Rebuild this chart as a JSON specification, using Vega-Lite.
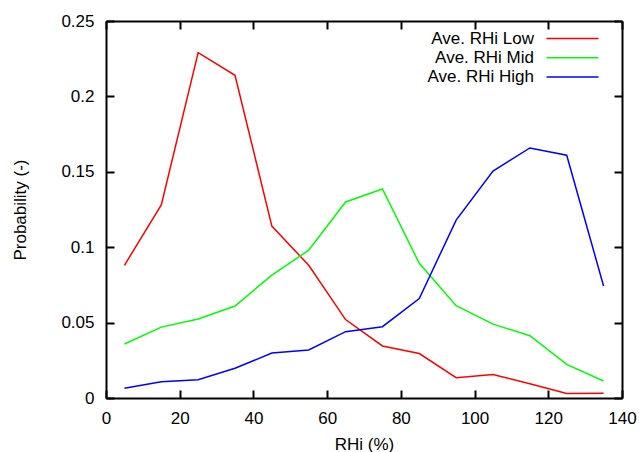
{
  "$schema": "https://vega.github.io/schema/vega-lite/v6.json",
  "width": 516,
  "height": 377,
  "autosize": {"type": "none"},
  "padding": {"left": 106, "top": 21, "right": 18, "bottom": 54},
  "background": "white",
  "config": {
    "font": "Liberation Sans",
    "view": {"stroke": null},
    "axis": {
      "grid": false,
      "domainColor": "black",
      "domainWidth": 2,
      "tickColor": "black",
      "tickWidth": 2,
      "tickSize": -8,
      "labelFlush": false,
      "labelOverlap": false,
      "labelFont": "Liberation Sans",
      "labelFontSize": 17,
      "labelColor": "black",
      "labelPadding": 20,
      "titleFont": "Liberation Sans",
      "titleFontSize": 17,
      "titleFontWeight": "normal",
      "titleColor": "black"
    },
    "legend": {
      "labelFont": "Liberation Sans",
      "labelFontSize": 17,
      "labelColor": "black"
    }
  },
  "data": {
    "values": [
      {"rhi": 5, "prob": 0.088, "series": "Ave. RHi Low"},
      {"rhi": 15, "prob": 0.128, "series": "Ave. RHi Low"},
      {"rhi": 25, "prob": 0.229, "series": "Ave. RHi Low"},
      {"rhi": 35, "prob": 0.214, "series": "Ave. RHi Low"},
      {"rhi": 45, "prob": 0.114, "series": "Ave. RHi Low"},
      {"rhi": 55, "prob": 0.088, "series": "Ave. RHi Low"},
      {"rhi": 65, "prob": 0.052, "series": "Ave. RHi Low"},
      {"rhi": 75, "prob": 0.0345, "series": "Ave. RHi Low"},
      {"rhi": 85, "prob": 0.0295, "series": "Ave. RHi Low"},
      {"rhi": 95, "prob": 0.0135, "series": "Ave. RHi Low"},
      {"rhi": 105, "prob": 0.0155, "series": "Ave. RHi Low"},
      {"rhi": 115, "prob": 0.0095, "series": "Ave. RHi Low"},
      {"rhi": 125, "prob": 0.003, "series": "Ave. RHi Low"},
      {"rhi": 135, "prob": 0.0032, "series": "Ave. RHi Low"},
      {"rhi": 5, "prob": 0.0358, "series": "Ave. RHi Mid"},
      {"rhi": 15, "prob": 0.047, "series": "Ave. RHi Mid"},
      {"rhi": 25, "prob": 0.0524, "series": "Ave. RHi Mid"},
      {"rhi": 35, "prob": 0.061, "series": "Ave. RHi Mid"},
      {"rhi": 45, "prob": 0.0815, "series": "Ave. RHi Mid"},
      {"rhi": 55, "prob": 0.098, "series": "Ave. RHi Mid"},
      {"rhi": 65, "prob": 0.13, "series": "Ave. RHi Mid"},
      {"rhi": 75, "prob": 0.1386, "series": "Ave. RHi Mid"},
      {"rhi": 85, "prob": 0.0893, "series": "Ave. RHi Mid"},
      {"rhi": 95, "prob": 0.0612, "series": "Ave. RHi Mid"},
      {"rhi": 105, "prob": 0.049, "series": "Ave. RHi Mid"},
      {"rhi": 115, "prob": 0.0413, "series": "Ave. RHi Mid"},
      {"rhi": 125, "prob": 0.0223, "series": "Ave. RHi Mid"},
      {"rhi": 135, "prob": 0.0113, "series": "Ave. RHi Mid"},
      {"rhi": 5, "prob": 0.0064, "series": "Ave. RHi High"},
      {"rhi": 15, "prob": 0.0108, "series": "Ave. RHi High"},
      {"rhi": 25, "prob": 0.0121, "series": "Ave. RHi High"},
      {"rhi": 35, "prob": 0.0197, "series": "Ave. RHi High"},
      {"rhi": 45, "prob": 0.0298, "series": "Ave. RHi High"},
      {"rhi": 55, "prob": 0.0318, "series": "Ave. RHi High"},
      {"rhi": 65, "prob": 0.044, "series": "Ave. RHi High"},
      {"rhi": 75, "prob": 0.0473, "series": "Ave. RHi High"},
      {"rhi": 85, "prob": 0.066, "series": "Ave. RHi High"},
      {"rhi": 95, "prob": 0.118, "series": "Ave. RHi High"},
      {"rhi": 105, "prob": 0.1505, "series": "Ave. RHi High"},
      {"rhi": 115, "prob": 0.1658, "series": "Ave. RHi High"},
      {"rhi": 125, "prob": 0.161, "series": "Ave. RHi High"},
      {"rhi": 135, "prob": 0.0743, "series": "Ave. RHi High"}
    ]
  },
  "layer": [
    {
      "mark": {"type": "line", "strokeWidth": 1.5},
      "encoding": {
        "x": {
          "field": "rhi",
          "type": "quantitative",
          "scale": {"domain": [0, 140], "nice": false},
          "axis": {"values": [0, 20, 40, 60, 80, 100, 120, 140], "title": "RHi (%)", "titlePadding": 10}
        },
        "y": {
          "field": "prob",
          "type": "quantitative",
          "scale": {"domain": [0, 0.25], "nice": false, "zero": true},
          "axis": {"values": [0, 0.05, 0.1, 0.15, 0.2, 0.25], "format": "~g", "title": "Probability (-)", "titlePadding": 31}
        },
        "color": {
          "field": "series",
          "type": "nominal",
          "scale": {
            "domain": ["Ave. RHi Low", "Ave. RHi Mid", "Ave. RHi High"],
            "range": ["#ff0000", "#00ff00", "#0000ff"]
          },
          "legend": {
            "title": null,
            "orient": "none",
            "legendX": 457,
            "legendY": 8,
            "symbolType": "M-3.06,0H3.06",
            "symbolSize": 289,
            "symbolStrokeWidth": 1.5,
            "labelAlign": "right",
            "labelOffset": -48,
            "rowPadding": 1.3
          }
        }
      }
    },
    {
      "mark": {"type": "point", "opacity": 0},
      "encoding": {
        "x": {
          "field": "rhi",
          "type": "quantitative",
          "axis": {"orient": "top", "values": [0, 20, 40, 60, 80, 100, 120, 140], "labels": false, "title": null}
        },
        "y": {
          "field": "prob",
          "type": "quantitative",
          "axis": {"orient": "right", "values": [0, 0.05, 0.1, 0.15, 0.2, 0.25], "labels": false, "title": null}
        }
      }
    }
  ],
  "resolve": {"axis": {"x": "independent", "y": "independent"}}
}
